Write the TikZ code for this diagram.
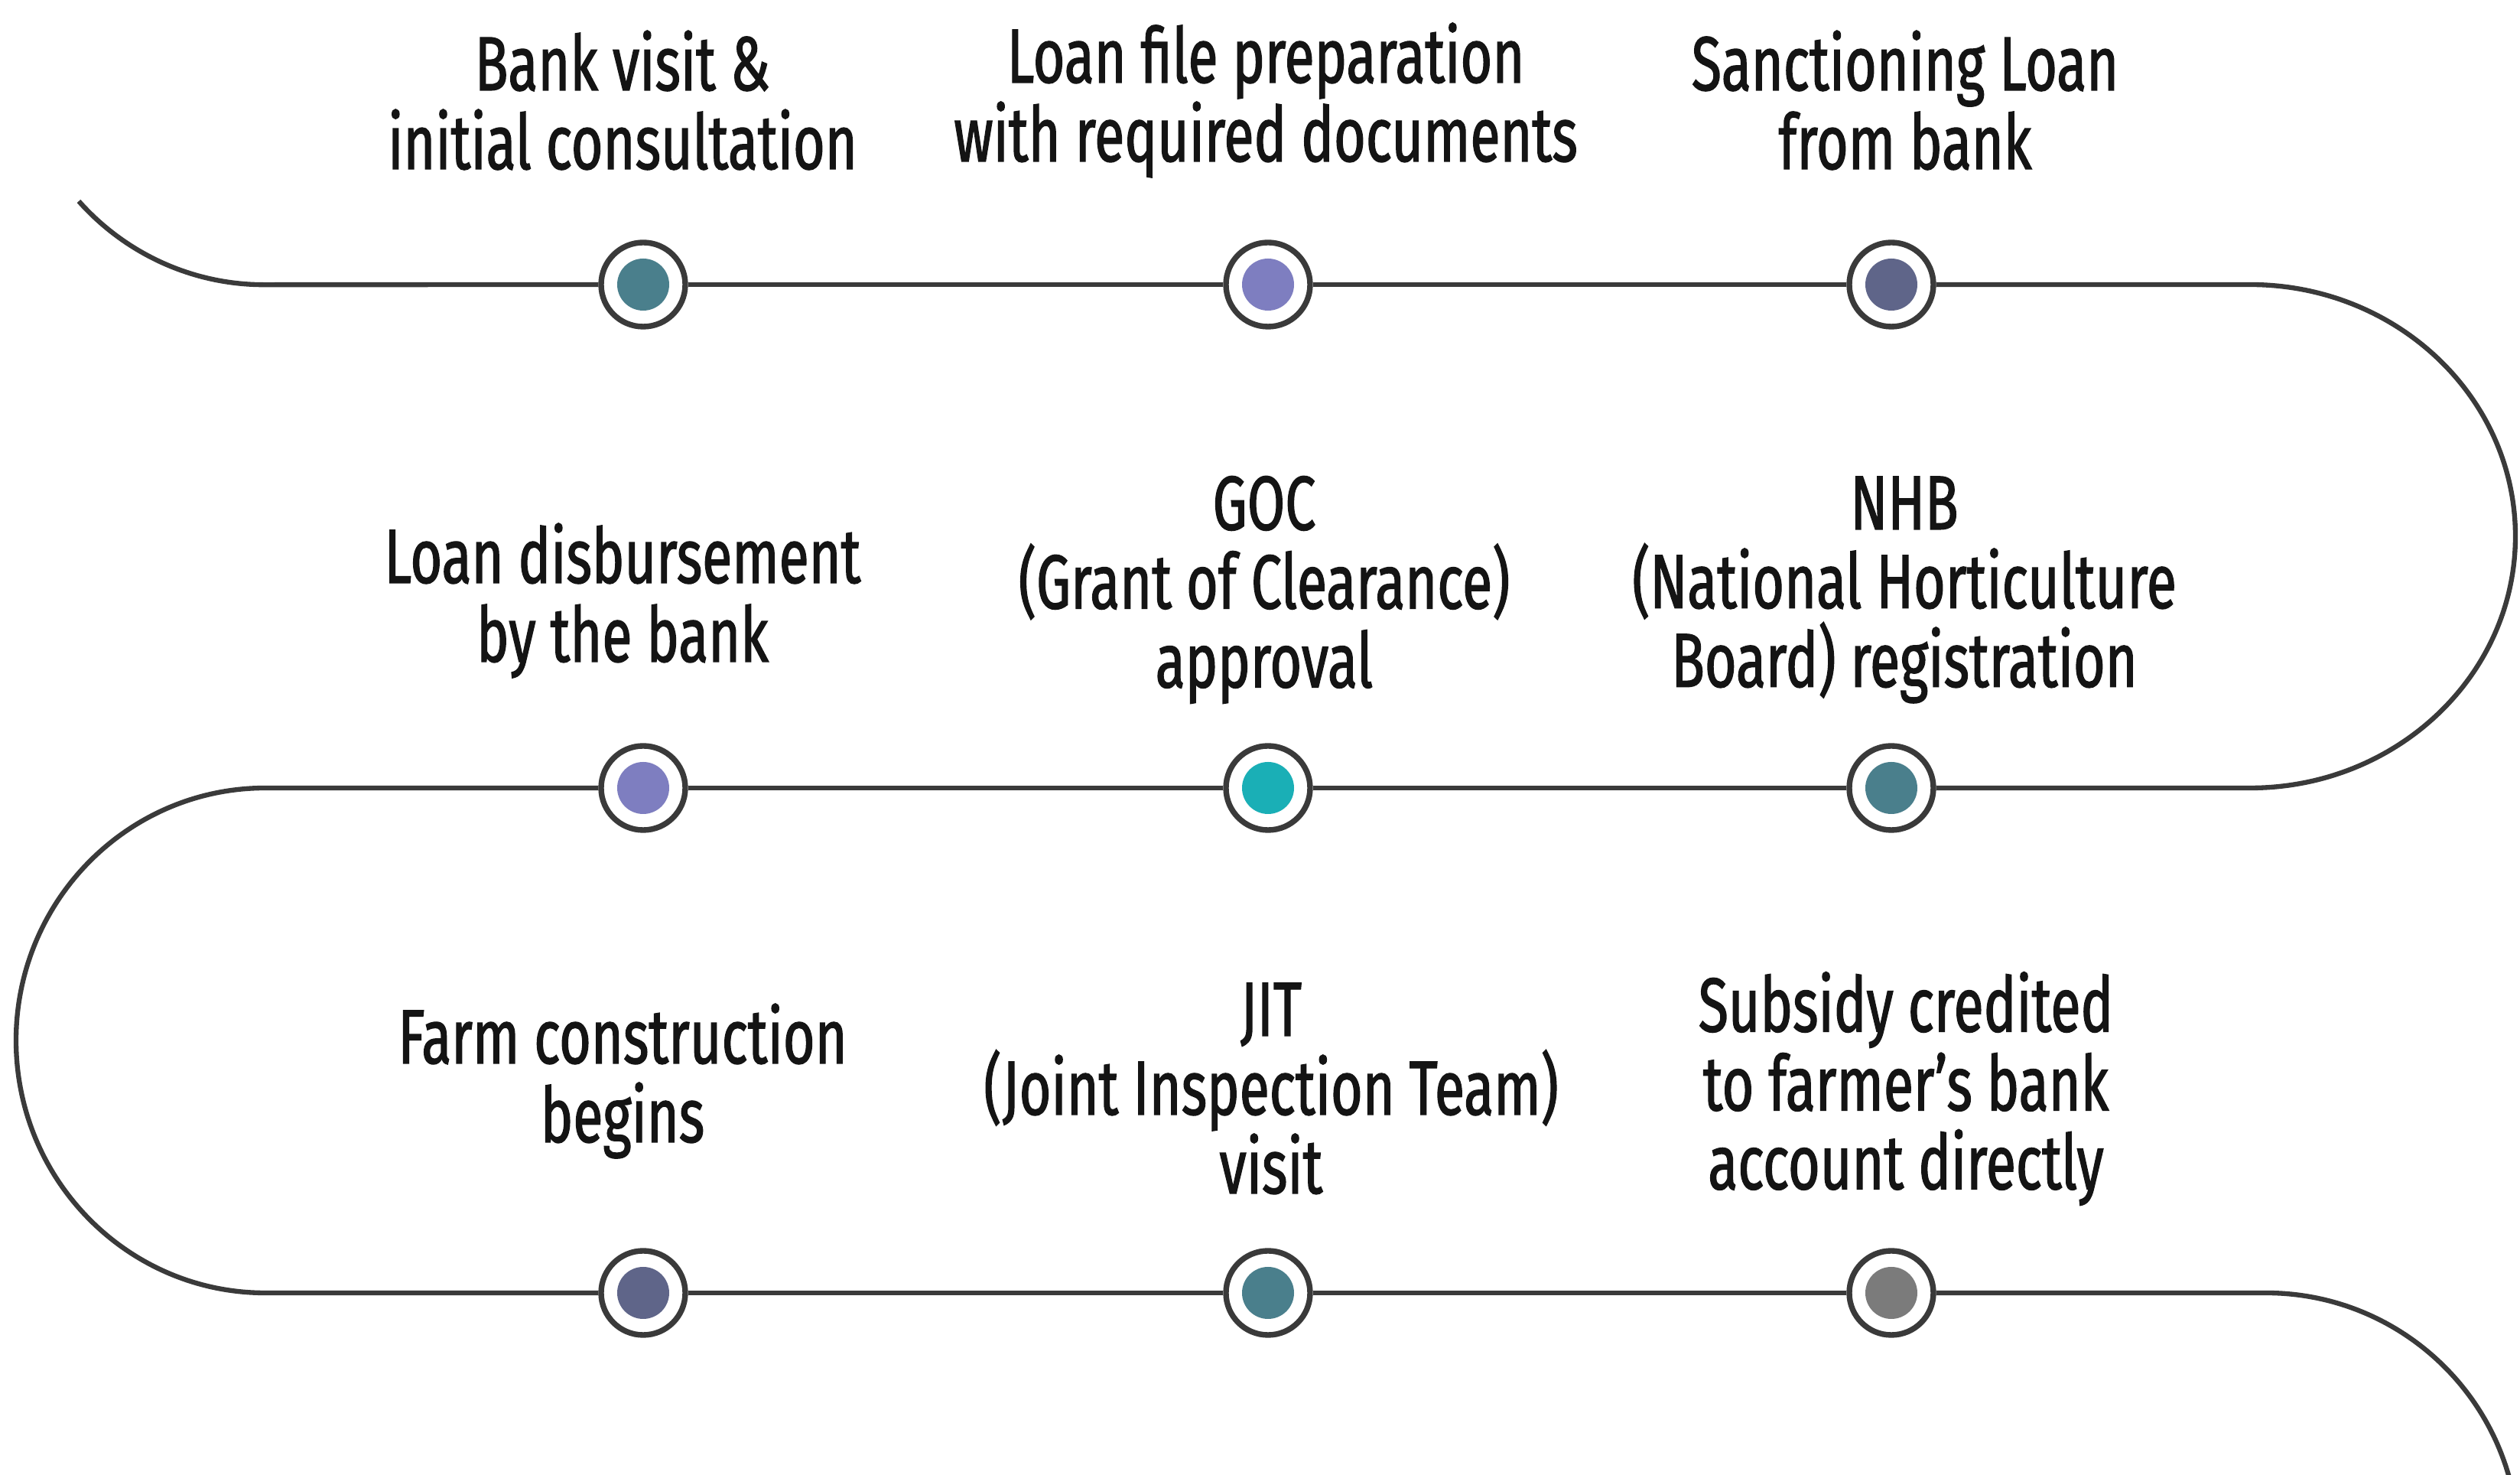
\documentclass[tikz,border=0pt]{standalone}
\usepackage{fontspec}
\setmainfont{Fira Sans}[FakeStretch=0.715, FakeBold=1.3]
\definecolor{linegray}{HTML}{3A3A3A}
\definecolor{tealdot}{HTML}{4A7F8C}
\definecolor{lavdot}{HTML}{7E7EC0}
\definecolor{slatedot}{HTML}{5F6589}
\definecolor{cyandot}{HTML}{1AAFB6}
\definecolor{graydot}{HTML}{7B7B7B}
\begin{document}
\begin{tikzpicture}
    \tikzstyle{dot} = [draw=linegray, line width=2.1pt, circle, fill=white, minimum size=1.1cm, inner sep=0pt,
        path picture={\fill[#1] (path picture bounding box.center) circle (0.34);}]
    \tikzstyle{steptext} = [align=center, text=black!92, font=\fontsize{28.5}{29.3}\selectfont]
    \tikzstyle{road} = [draw=linegray, line width=1.8pt]
    \clip (0,0) rectangle (32.95,19.28);
    \fill[white] (0,0) rectangle (32.95,19.28);

    % Top row
    \node [dot=tealdot] (d1) at (8.41,15.56) {};
    \node [dot=lavdot] (d2) at (16.58,15.56) {};
    \node [dot=slatedot] (d3) at (24.73,15.56) {};
    \node [steptext] (t1) at (8.14,17.97) {Bank visit \&\\initial consultation};
    \node [steptext] (t2) at (16.55,17.97) {Loan file preparation\\with required documents};
    \node [steptext] (t3) at (24.91,17.97) {Sanctioning Loan\\from bank};

    % Middle row
    \node [dot=lavdot] (d4) at (8.41,8.98) {};
    \node [dot=cyandot] (d5) at (16.58,8.98) {};
    \node [dot=tealdot] (d6) at (24.73,8.98) {};
    \node [steptext] (t4) at (8.14,11.43) {Loan disbursement\\by the bank};
    \node [steptext] (t5) at (16.53,11.57) {GOC\\(Grant of Clearance)\\approval};
    \node [steptext] (t6) at (24.90,11.57) {NHB\\(National Horticulture\\Board) registration};

    % Bottom row
    \node [dot=slatedot] (d7) at (8.41,2.38) {};
    \node [dot=tealdot] (d8) at (16.58,2.38) {};
    \node [dot=graydot] (d9) at (24.73,2.38) {};
    \node [steptext] (t7) at (8.14,5.15) {Farm construction\\begins};
    \node [steptext] (t8) at (16.62,5.05) {JIT\\(Joint Inspection Team)\\visit};
    \node [steptext] (t9) at (24.92,5.05) {Subsidy credited\\to farmer’s bank\\account directly};

    % Road ends and turns
    \coordinate (start) at (1.03,16.65);
    \coordinate (r1) at (29.42,15.56);
    \coordinate (l1) at (3.47,8.98);
    \coordinate (r2) at (29.63,2.38);

    \draw [road] (start) arc[start angle=222, end angle=270, x radius=3.26, y radius=3.30] -- (d1);
    \draw [road] (d1) -- (d2);
    \draw [road] (d2) -- (d3);
    \draw [road] (d3) -- (r1) arc[start angle=90, end angle=-90, x radius=3.47, y radius=3.29] -- (d6);
    \draw [road] (d6) -- (d5);
    \draw [road] (d5) -- (d4);
    \draw [road] (d4) -- (l1) arc[start angle=90, end angle=270, x radius=3.26, y radius=3.30] -- (d7);
    \draw [road] (d7) -- (d8);
    \draw [road] (d8) -- (d9);
    \draw [road] (d9) -- (r2) arc[start angle=90, end angle=5, x radius=3.30, y radius=3.30];
\end{tikzpicture}
\end{document}
